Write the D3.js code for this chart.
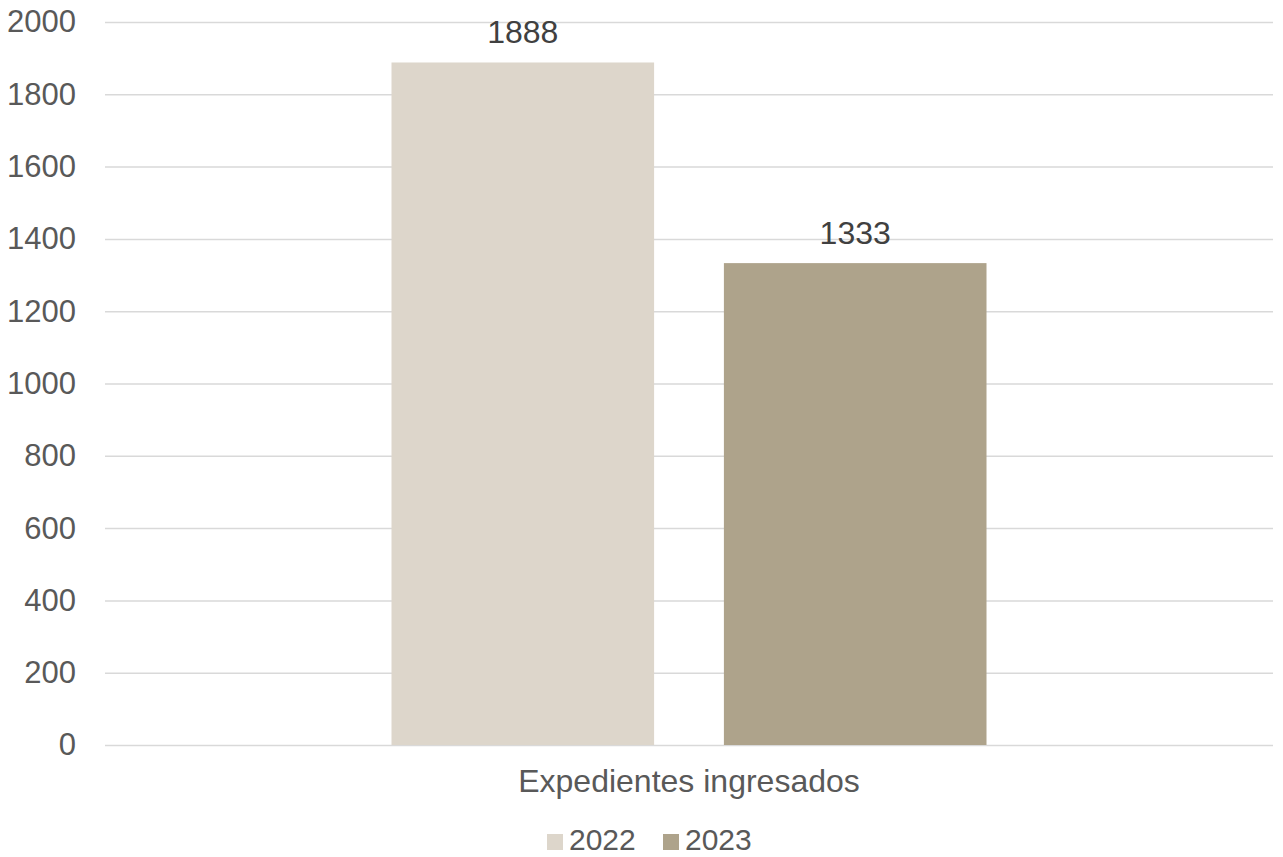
<!DOCTYPE html>
<html>
<head>
<meta charset="utf-8">
<script src="https://cdn.jsdelivr.net/npm/d3@7"></script>
<style>
  html, body { margin: 0; padding: 0; background: #fff; }
  svg { display: block; font-family: "Liberation Sans", Arial, sans-serif; }
</style>
</head>
<body>
<svg id="chart" width="1283" height="857"></svg>
<script>
const categories = ["Expedientes ingresados"];
const seriesNames = ["2022", "2023"];
const values2022 = [1888];
const values2023 = [1333];
const tickValues = [0, 200, 400, 600, 800, 1000, 1200, 1400, 1600, 1800, 2000];
const seriesValues = [values2022, values2023];
const colors = ["#ddd6cb", "#aea38b"];

const svg = d3.select("#chart");
const plotLeft = 105, plotRight = 1273, plotTop = 22, plotBottom = 745;

const y = d3.scaleLinear().domain([0, 2000]).range([plotBottom, plotTop]);
const x0 = d3.scaleBand().domain(categories).range([plotLeft, plotRight])
  .paddingInner(0).paddingOuter(0.4815);
const x1 = d3.scaleBand().domain(seriesNames).range([0, x0.bandwidth()])
  .paddingInner(0.21).paddingOuter(0);
const color = d3.scaleOrdinal().domain(seriesNames).range(colors);

// gridlines
const yAxis = d3.axisLeft(y).tickValues(tickValues).tickFormat(d3.format("d"))
  .tickSize(-(plotRight - plotLeft)).tickPadding(29);
const gy = svg.append("g").attr("transform", `translate(${plotLeft},0)`).call(yAxis);
gy.select(".domain").remove();
gy.selectAll(".tick line").attr("stroke", "#d9d9d9").attr("stroke-width", 1.5);
gy.selectAll(".tick text").attr("fill", "#595959").style("font-size", "31px")
  .style("font-family", "'Liberation Sans', Arial, sans-serif");

// bars
categories.forEach((cat, ci) => {
  const g = svg.append("g").attr("transform", `translate(${x0(cat)},0)`);
  seriesNames.forEach((s, si) => {
    const v = seriesValues[si][ci];
    g.append("rect")
      .attr("x", x1(s))
      .attr("y", y(v))
      .attr("width", x1.bandwidth())
      .attr("height", y(0) - y(v))
      .attr("fill", color(s));
    g.append("text")
      .attr("x", x1(s) + x1.bandwidth() / 2)
      .attr("y", y(v) - 19)
      .attr("text-anchor", "middle")
      .attr("fill", "#404040")
      .style("font-size", "32px")
      .text(v);
  });
  // category label
  svg.append("text")
    .attr("x", x0(cat) + x0.bandwidth() / 2)
    .attr("y", 792)
    .attr("text-anchor", "middle")
    .attr("fill", "#595959")
    .style("font-size", "32px")
    .text(cat);
});

// legend
const legendItems = [{ name: seriesNames[0], x: 547 }, { name: seriesNames[1], x: 663 }];
const lg = svg.append("g");
legendItems.forEach(it => {
  lg.append("rect").attr("x", it.x).attr("y", 834).attr("width", 16).attr("height", 16)
    .attr("fill", color(it.name));
  lg.append("text").attr("x", it.x + 22).attr("y", 850)
    .attr("fill", "#595959").style("font-size", "30px").text(it.name);
});
</script>
</body>
</html>
